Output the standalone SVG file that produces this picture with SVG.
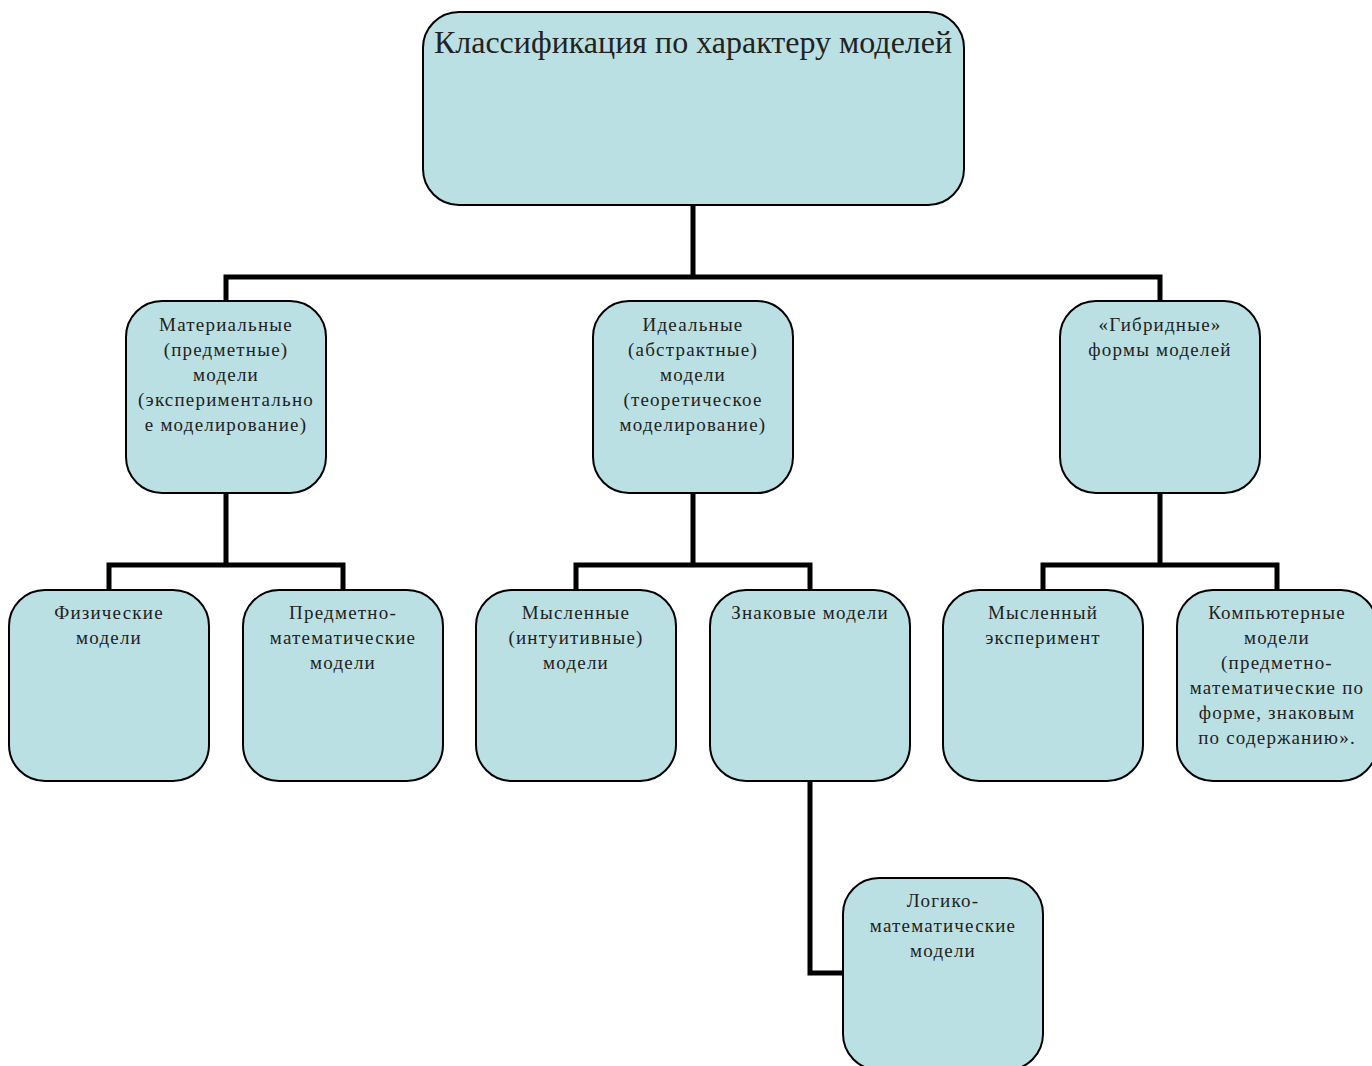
<svg xmlns="http://www.w3.org/2000/svg" width="1372" height="1066" viewBox="0 0 1372 1066">
<style>
.box{fill:#bbe0e3;stroke:#000;stroke-width:2}
.t{font-family:"Liberation Serif","Times New Roman",serif;font-size:19px;fill:#222;text-anchor:middle;letter-spacing:1.2px}
.tt{font-family:"Liberation Serif","Times New Roman",serif;font-size:32px;fill:#222;text-anchor:middle}
.c{fill:none;stroke:#000;stroke-width:5}
</style>
<rect width="1372" height="1066" fill="#fff"/>
<g id="connectors">
<path class="c" d="M693 205V277M226 301V277H1160V301"/>
<path class="c" d="M226 493V565M109 590V565H343V590"/>
<path class="c" d="M693 493V565M576 590V565H810V590"/>
<path class="c" d="M1160 493V565M1043 590V565H1277V590"/>
<path class="c" d="M810 781V973H843"/>
</g>
<g id="root">
<rect class="box" x="423" y="12" width="541" height="193" rx="36"/>
<text class="tt" x="693" y="53">Классификация по характеру моделей</text>
</g>
<g id="material">
<rect class="box" x="126" y="301" width="200" height="192" rx="36"/>
<text class="t" x="226" y="331">Материальные<tspan x="226" dy="25">(предметные)</tspan><tspan x="226" dy="25">модели</tspan><tspan x="226" dy="25">(экспериментально</tspan><tspan x="226" dy="25">е моделирование)</tspan></text>
</g>
<g id="ideal">
<rect class="box" x="593" y="301" width="200" height="192" rx="36"/>
<text class="t" x="693" y="331">Идеальные<tspan x="693" dy="25">(абстрактные)</tspan><tspan x="693" dy="25">модели</tspan><tspan x="693" dy="25">(теоретическое</tspan><tspan x="693" dy="25">моделирование)</tspan></text>
</g>
<g id="hybrid">
<rect class="box" x="1060" y="301" width="200" height="192" rx="36"/>
<text class="t" x="1160" y="331">«Гибридные»<tspan x="1160" dy="25">формы моделей</tspan></text>
</g>
<g id="physical">
<rect class="box" x="9" y="590" width="200" height="191" rx="36"/>
<text class="t" x="109" y="619">Физические<tspan x="109" dy="25">модели</tspan></text>
</g>
<g id="subject-math">
<rect class="box" x="243" y="590" width="200" height="191" rx="36"/>
<text class="t" x="343" y="619">Предметно-<tspan x="343" dy="25">математические</tspan><tspan x="343" dy="25">модели</tspan></text>
</g>
<g id="mental">
<rect class="box" x="476" y="590" width="200" height="191" rx="36"/>
<text class="t" x="576" y="619">Мысленные<tspan x="576" dy="25">(интуитивные)</tspan><tspan x="576" dy="25">модели</tspan></text>
</g>
<g id="sign">
<rect class="box" x="710" y="590" width="200" height="191" rx="36"/>
<text class="t" x="810" y="619">Знаковые модели</text>
</g>
<g id="mental-exp">
<rect class="box" x="943" y="590" width="200" height="191" rx="36"/>
<text class="t" x="1043" y="619">Мысленный<tspan x="1043" dy="25">эксперимент</tspan></text>
</g>
<g id="computer">
<rect class="box" x="1177" y="590" width="200" height="191" rx="36"/>
<text class="t" x="1277" y="619">Компьютерные<tspan x="1277" dy="25">модели</tspan><tspan x="1277" dy="25">(предметно-</tspan><tspan x="1277" dy="25">математические по</tspan><tspan x="1277" dy="25">форме, знаковым</tspan><tspan x="1277" dy="25">по содержанию».</tspan></text>
</g>
<g id="logic-math">
<rect class="box" x="843" y="878" width="200" height="192" rx="36"/>
<text class="t" x="943" y="907">Логико-<tspan x="943" dy="25">математические</tspan><tspan x="943" dy="25">модели</tspan></text>
</g>
</svg>
